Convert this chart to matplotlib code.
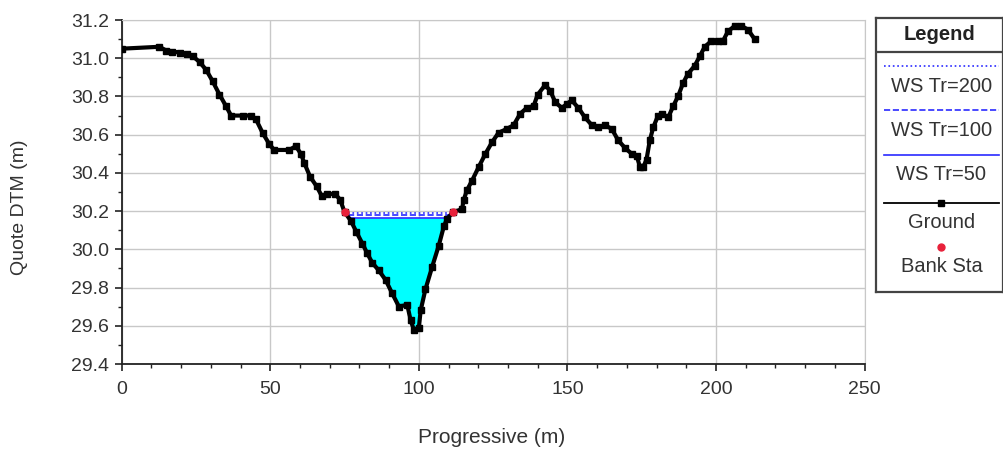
import numpy as np
import matplotlib
matplotlib.use('Agg')
import matplotlib.pyplot as plt
from matplotlib.ticker import MultipleLocator
from matplotlib.lines import Line2D

plt.rcParams['font.family'] = ['Liberation Sans', 'DejaVu Sans']

#%% data read off the cross section

ground_x = [0, 12.7, 15, 17, 19.5, 22, 24, 26.2, 28.4, 30.6, 32.9, 35.1, 36.8, 40.7, 43.5,
            45.2, 47.4, 49.7, 51.3, 56.4, 58.6, 60.3, 61.5, 63.4, 65.6, 67.3, 69.0, 71.8,
            73.5, 75.0, 77.1, 79, 81, 82.6, 84.3, 86.5, 88.8, 91, 93.3, 96.1, 97.2, 98.3,
            100, 100.6, 102.2, 104.5, 106.7, 108.4, 109.5, 111.5, 114.5, 115.1, 116.2,
            117.9, 120.1, 122.4, 124.6, 126.8, 129.6, 131.9, 134.1, 136.3, 138.6, 140,
            142.5, 144.2, 145.9, 148.1, 149.8, 151.4, 153.7, 155.9, 158.2, 160.4, 162.6,
            164.9, 167.1, 169.4, 171.6, 173.3, 174.4, 175.5, 176.6, 177.7, 178.9, 180.5,
            181.7, 183.9, 185.6, 187.2, 188.9, 190.6, 192.8, 194.5, 196.2, 198.4, 200.7,
            202.3, 204, 206.3, 208.5, 210.7, 213]
ground_z = [31.05, 31.06, 31.04, 31.035, 31.03, 31.02, 31.01, 30.98, 30.94, 30.88, 30.81,
            30.75, 30.70, 30.70, 30.70, 30.68, 30.61, 30.55, 30.52, 30.52, 30.54, 30.50,
            30.45, 30.38, 30.33, 30.28, 30.29, 30.29, 30.26, 30.195, 30.15, 30.09, 30.03,
            29.98, 29.93, 29.89, 29.84, 29.77, 29.70, 29.71, 29.63, 29.58, 29.59, 29.68,
            29.79, 29.91, 30.02, 30.12, 30.16, 30.195, 30.21, 30.26, 30.31, 30.36, 30.43,
            30.50, 30.56, 30.61, 30.63, 30.65, 30.71, 30.74, 30.75, 30.81, 30.86, 30.83,
            30.77, 30.74, 30.76, 30.78, 30.74, 30.69, 30.65, 30.64, 30.65, 30.63, 30.57,
            30.53, 30.50, 30.49, 30.43, 30.43, 30.47, 30.57, 30.64, 30.70, 30.71, 30.69,
            30.75, 30.80, 30.87, 30.92, 30.96, 31.01, 31.06, 31.09, 31.09, 31.09, 31.14,
            31.17, 31.17, 31.15, 31.10]

bank_x = [75.0, 111.5]
bank_z = [30.195, 30.195]

ws_labels = ['WS Tr=200', 'WS Tr=100', 'WS Tr=50']
ws_levels = [30.19, 30.18, 30.165]
ws_left = [76.0, 76.3, 76.8]
ws_right = [110.6, 110.3, 109.9]
ws_styles = [':', '--', '-']

gx = np.array(ground_x)
gz = np.array(ground_z)

#%% main axes
fig = plt.figure(figsize=(10.04, 4.51), dpi=100)
ax = fig.add_axes([0.1212, 0.1929, 0.7400, 0.7627])

# water fill for the lowest profile
ax.fill_between(gx, gz, ws_levels[-1], where=gz < ws_levels[-1], interpolate=True,
                color='#00ffff', linewidth=0, zorder=2)

for lev, x0, x1, ls in zip(ws_levels, ws_left, ws_right, ws_styles):
    ax.plot([x0, x1], [lev, lev], color='#2a2aff', linestyle=ls, lw=1.2, zorder=3)

ax.plot(gx, gz, color='black', lw=3.0, marker='s', ms=4.2, mfc='black', mec='black',
        solid_capstyle='round', solid_joinstyle='round', zorder=4)
ax.plot(bank_x, bank_z, linestyle='none', marker='o', ms=5, color='#e8213a', zorder=5)

ax.set_xlim(0, 250)
ax.set_ylim(29.4, 31.2)
ax.xaxis.set_major_locator(MultipleLocator(50))
ax.xaxis.set_minor_locator(MultipleLocator(10))
ax.yaxis.set_major_locator(MultipleLocator(0.2))
ax.yaxis.set_minor_locator(MultipleLocator(0.1))
ax.yaxis.set_major_formatter(plt.FormatStrFormatter('%.1f'))
ax.grid(True, which='major', color='#c8c8c8', lw=1.0, zorder=0)
ax.set_axisbelow(True)

for s in ['top', 'right']:
    ax.spines[s].set_color('#c8c8c8')
for s in ['left', 'bottom']:
    ax.spines[s].set_color('#222222')
    ax.spines[s].set_linewidth(1.3)

ax.tick_params(which='major', direction='out', length=5, width=1.2, colors='#222222',
               labelsize=14, labelcolor='#333333')
ax.tick_params(axis='x', which='major', pad=7)
ax.tick_params(axis='y', which='major', pad=4)
ax.tick_params(which='minor', direction='out', length=3, width=1.0, colors='#222222')

ax.set_xlabel('Progressive (m)', fontsize=15, color='#333333')
ax.set_ylabel('Quote DTM (m)', fontsize=14, color='#333333')
ax.xaxis.set_label_coords(0.498, -0.215)
ax.yaxis.set_label_coords(-0.137, 0.456)
ax.xaxis.label.set_va('center')
ax.yaxis.label.set_va('center')

#%% legend box drawn on its own axes
W, H = 1004.0, 451.0
lx0, ly0, lx1, ly1 = 876, 18, 1003, 292
lg = fig.add_axes([lx0 / W, 1 - ly1 / H, (lx1 - lx0) / W, (ly1 - ly0) / H])
lg.set_xlim(lx0, lx1)
lg.set_ylim(ly1, ly0)
lg.set_xticks([])
lg.set_yticks([])
for s in lg.spines.values():
    s.set_color('#444444')
    s.set_linewidth(1.6)

cx = (lx0 + lx1) / 2
lg.text(cx, 34, 'Legend', ha='center', va='center', fontsize=14.5, fontweight='bold', color='#222222')
lg.add_line(Line2D([lx0, lx1], [52, 52], color='#444444', lw=1.6))

line_y = [66, 110, 155]
text_y = [86, 130, 175]
for lab, ls, yl, yt in zip(ws_labels, ws_styles, line_y, text_y):
    lg.add_line(Line2D([884, 999], [yl, yl], color='#2a2aff', linestyle=ls, lw=1.2))
    lg.text(cx + 2, yt, lab, ha='center', va='center', fontsize=14.5, color='#333333')

lg.add_line(Line2D([884, 999], [203, 203], color='black', lw=1.3))
lg.plot([941.5], [203], marker='s', ms=4.2, color='black')
lg.text(cx + 2, 222, 'Ground', ha='center', va='center', fontsize=14.5, color='#333333')
lg.plot([941.5], [247], marker='o', ms=5, color='#e8213a', linestyle='none')
lg.text(cx + 2, 267, 'Bank Sta', ha='center', va='center', fontsize=14.5, color='#333333')

fig.savefig('out.png', dpi=100)
